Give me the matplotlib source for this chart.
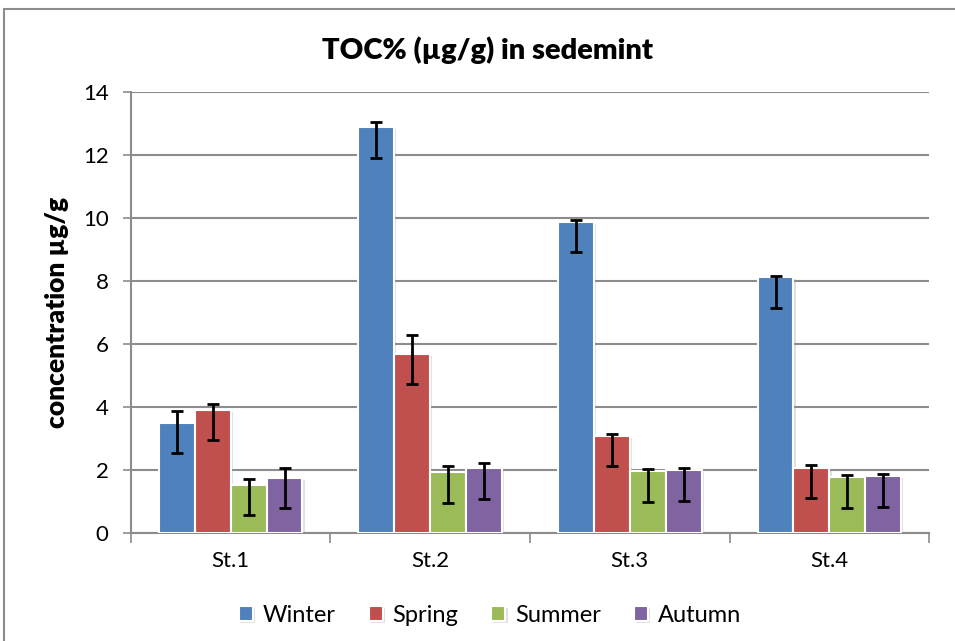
import numpy as np
import matplotlib
matplotlib.use("Agg")
import matplotlib.pyplot as plt
from matplotlib.patches import Rectangle
import matplotlib.patheffects as pe

plt.rcParams['font.family'] = ['Lato', 'DejaVu Sans']

stations = ['St.1', 'St.2', 'St.3', 'St.4']
seasons = ['Winter', 'Spring', 'Summer', 'Autumn']
colors = ['#4F81BD', '#C0504D', '#9BBB59', '#8064A2']

# bar heights per season (one value per station)
winter = [3.50, 12.88, 9.88, 8.12]
spring = [3.91, 5.69, 3.08, 2.06]
summer = [1.52, 1.94, 1.97, 1.77]
autumn = [1.75, 2.05, 1.99, 1.81]

# error bar ends (low, high)
winter_lo = [2.53, 11.90, 8.91, 7.14]
winter_hi = [3.87, 13.06, 9.93, 8.17]
spring_lo = [2.95, 4.72, 2.12, 1.11]
spring_hi = [4.10, 6.27, 3.14, 2.17]
summer_lo = [0.56, 0.96, 0.99, 0.79]
summer_hi = [1.71, 2.14, 2.03, 1.83]
autumn_lo = [0.80, 1.08, 1.01, 0.84]
autumn_hi = [2.05, 2.22, 2.06, 1.86]

values = [winter, spring, summer, autumn]
lows = [winter_lo, spring_lo, summer_lo, autumn_lo]
highs = [winter_hi, spring_hi, summer_hi, autumn_hi]

fig = plt.figure(figsize=(9.55, 6.41), dpi=100)
ax = fig.add_axes([0.137, 0.1685, 0.836, 0.688])

# chart border (runs off the right and bottom of the picture)
fig.patches.append(Rectangle((4 / 955, -0.1), 1.2, 1.086,
                             transform=fig.transFigure, fill=False,
                             edgecolor='#8c8c8c', linewidth=1.5))

x = np.arange(len(stations)) + 0.5
w = 0.18
offsets = [-1.5 * w, -0.5 * w, 0.5 * w, 1.5 * w]

for i in range(4):
    v = np.array(values[i])
    err = [v - np.array(lows[i]), np.array(highs[i]) - v]
    bars = ax.bar(x + offsets[i], v, width=w, color=colors[i], edgecolor='white',
                  linewidth=1.5, label=seasons[i], zorder=3)
    for b in bars:
        b.set_path_effects([pe.SimplePatchShadow(offset=(1.5, -1.5), shadow_rgbFace='#999999', alpha=0.3),
                            pe.Normal()])
    ax.errorbar(x + offsets[i], v, yerr=err, fmt='none', ecolor='black',
                elinewidth=2, capsize=4.5, capthick=2, zorder=4)

ax.set_xlim(0, 4)
ax.set_ylim(0, 14)
ax.set_yticks(range(0, 15, 2))
ax.yaxis.grid(True, color='#8c8c8c', linewidth=1.5, zorder=0)
ax.set_axisbelow(True)

# category boundary ticks, labels in the middle
ax.set_xticks([0, 1, 2, 3, 4])
ax.set_xticklabels([])
ax.set_xticks(x, minor=True)
ax.set_xticklabels(stations, minor=True)
ax.tick_params(axis='x', which='minor', length=0, labelsize=16, pad=13)
ax.tick_params(axis='x', which='major', length=7, color='#8c8c8c', width=1.2)
ax.tick_params(axis='y', length=6, color='#8c8c8c', width=1.2, labelsize=16, pad=10)

for s in ['top', 'right']:
    ax.spines[s].set_visible(False)
for s in ['left', 'bottom']:
    ax.spines[s].set_color('#8c8c8c')
    ax.spines[s].set_linewidth(1.5)

ax.set_ylabel('concentration µg/g', fontsize=19, fontweight='heavy', labelpad=10)
fig.text(0.51, 0.922, 'TOC% (µg/g) in sedemint', ha='center', va='center',
         fontsize=21, fontweight='heavy')

fig.legend(loc='center', bbox_to_anchor=(0.513, 0.04), ncol=4, frameon=False,
           fontsize=17, handlelength=0.6, handleheight=0.6, handletextpad=0.4,
           columnspacing=1.4)

fig.savefig('out.png', dpi=100)
